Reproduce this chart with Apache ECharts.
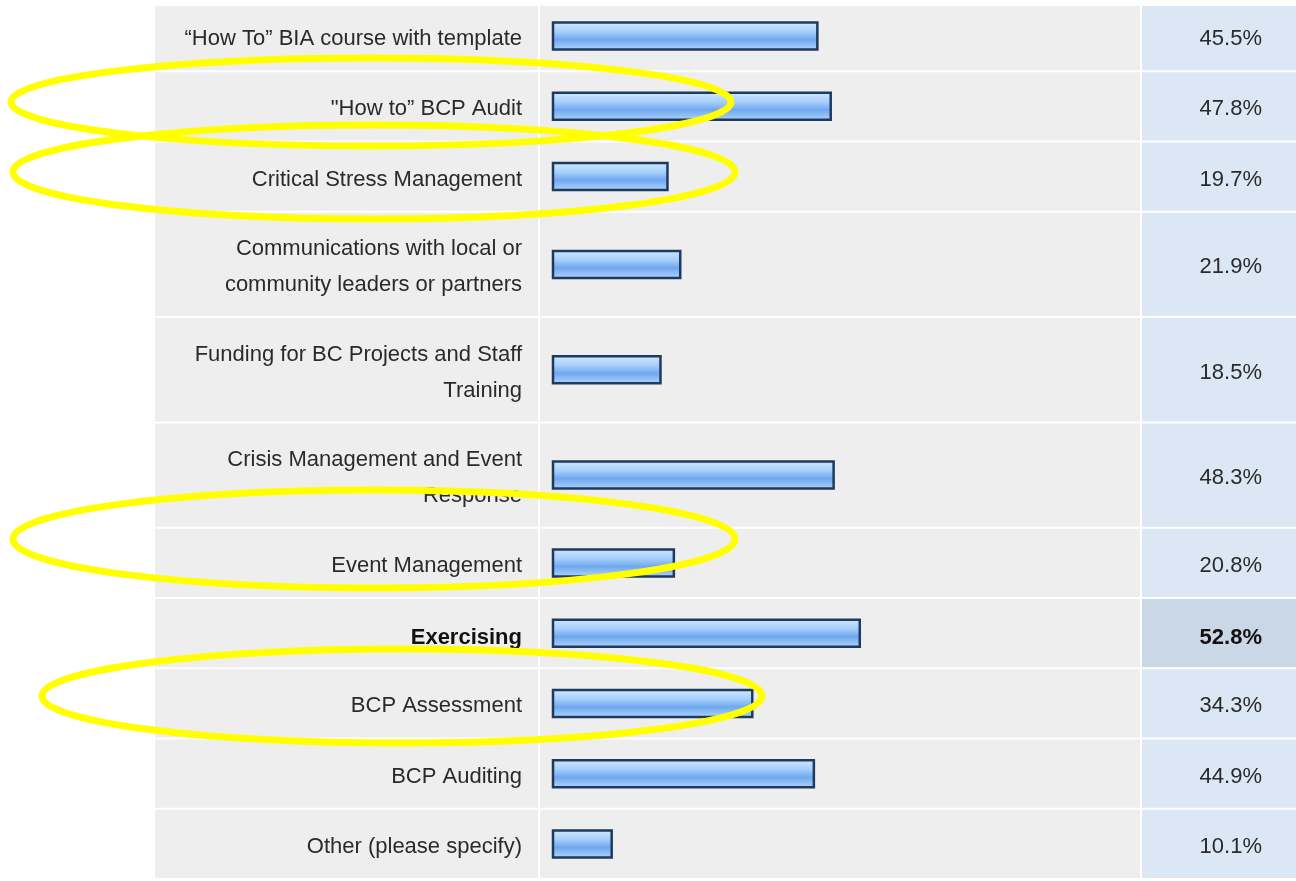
<!DOCTYPE html>
<html>
<head>
<meta charset="utf-8">
<title>Survey results</title>
<script src="https://cdn.jsdelivr.net/npm/echarts@6/dist/echarts.min.js"></script>
<style>
  html, body { margin: 0; padding: 0; background: #ffffff; }
  #chart { width: 1296px; height: 881px; }
</style>
</head>
<body>
<div id="chart"></div>
<script>
// answer choices, top to bottom
const categories = [
    '\u201cHow To\u201d BIA course with template',
    '"How to\u201d BCP Audit',
    'Critical Stress Management',
    'Communications with local or\ncommunity leaders or partners',
    'Funding for BC Projects and Staff\nTraining',
    'Crisis Management and Event\nResponse',
    'Event Management',
    'Exercising',
    'BCP Assessment',
    'BCP Auditing',
    'Other (please specify)'
];
// response percent
const percents = [45.5, 47.8, 19.7, 21.9, 18.5, 48.3, 20.8, 52.8, 34.3, 44.9, 10.1];
// the row shown in bold
const highlighted = 'Exercising';

const FONT = '"Liberation Sans", Arial, Helvetica, sans-serif';
const TEXT_COLOR = '#2a2a2a';

// one-line rows take 2 units, two-line rows take 3
const rowUnits = categories.map(c => c.split('\n').length === 1 ? 2 : 3);
const rowStart = [];
let acc = 0;
rowUnits.forEach(u => { rowStart.push(acc); acc += u; });
const totalUnits = acc;

const rows = categories.map((c, i) => [i, rowStart[i], rowStart[i] + rowUnits[i], percents[i]]);

function rowBox(api) {
    const top = api.coord([0, api.value(1)])[1];
    const bottom = api.coord([0, api.value(2)])[1];
    return { top: top, bottom: bottom, mid: (top + bottom) / 2 };
}

function renderLabel(params, api) {
    const i = api.value(0);
    const cs = params.coordSys;
    const b = rowBox(api);
    const bold = categories[i] === highlighted;
    return {
        type: 'group',
        children: [
            {
                type: 'rect',
                shape: { x: cs.x, y: b.top + 1, width: cs.width, height: b.bottom - b.top - 2 },
                style: { fill: '#eeeeee' }
            },
            {
                type: 'text',
                style: {
                    text: categories[i],
                    x: cs.x + cs.width - 16,
                    y: b.mid + (bold ? 5 : 3),
                    align: 'right',
                    verticalAlign: 'middle',
                    fontFamily: FONT,
                    fontSize: 22,
                    fontWeight: bold ? 'bold' : 'normal',
                    lineHeight: 36,
                    fill: bold ? '#111111' : TEXT_COLOR
                }
            }
        ]
    };
}

function renderBar(params, api) {
    const cs = params.coordSys;
    const b = rowBox(api);
    const yc = (api.value(1) + api.value(2)) / 2;
    const start = api.coord([0, yc]);
    const end = api.coord([api.value(3), yc]);
    return {
        type: 'group',
        children: [
            {
                type: 'rect',
                shape: { x: cs.x - 13, y: b.top + 1, width: cs.width + 19, height: b.bottom - b.top - 2 },
                style: { fill: '#eeeeee' }
            },
            {
                type: 'rect',
                shape: { x: start[0], y: start[1] - 13.5, width: end[0] - start[0], height: 27 },
                style: {
                    fill: new echarts.graphic.LinearGradient(0, 0, 0, 1, [
                        { offset: 0, color: '#d3e9ff' },
                        { offset: 0.35, color: '#a6cffc' },
                        { offset: 0.62, color: '#6fa8ef' },
                        { offset: 1, color: '#b4d7fc' }
                    ]),
                    stroke: '#1f3a5f',
                    lineWidth: 2.5
                }
            }
        ]
    };
}

function renderPercent(params, api) {
    const i = api.value(0);
    const cs = params.coordSys;
    const b = rowBox(api);
    const bold = categories[i] === highlighted;
    return {
        type: 'group',
        children: [
            {
                type: 'rect',
                shape: { x: cs.x, y: b.top + 1, width: cs.width, height: b.bottom - b.top - 2 },
                style: { fill: bold ? '#cad7e6' : '#dbe7f5' }
            },
            {
                type: 'text',
                style: {
                    text: api.value(3).toFixed(1) + '%',
                    x: cs.x + cs.width - 34,
                    y: b.mid + (bold ? 5 : 3),
                    align: 'right',
                    verticalAlign: 'middle',
                    fontFamily: FONT,
                    fontSize: 22,
                    fontWeight: bold ? 'bold' : 'normal',
                    fill: bold ? '#111111' : TEXT_COLOR
                }
            }
        ]
    };
}

// hand drawn yellow rings on top of the screenshot
const rings = [
    { cx: 371, cy: 102, rx: 360, ry: 44 },
    { cx: 374, cy: 172, rx: 361, ry: 47 },
    { cx: 374, cy: 539, rx: 361, ry: 49 },
    { cx: 402, cy: 696, rx: 360, ry: 47 }
];

const yAxisBase = { type: 'value', min: 0, max: totalUnits, inverse: true, show: false };

const option = {
    animation: false,
    backgroundColor: '#ffffff',
    grid: [
        { left: 155, top: 1, width: 383, height: 878 },
        { left: 553, top: 1, width: 581, height: 878 },
        { left: 1142, top: 1, width: 154, height: 878 }
    ],
    xAxis: [
        { type: 'value', gridIndex: 0, min: 0, max: 1, show: false },
        { type: 'value', gridIndex: 1, min: 0, max: 100, show: false },
        { type: 'value', gridIndex: 2, min: 0, max: 1, show: false }
    ],
    yAxis: [
        Object.assign({ gridIndex: 0 }, yAxisBase),
        Object.assign({ gridIndex: 1 }, yAxisBase),
        Object.assign({ gridIndex: 2 }, yAxisBase)
    ],
    series: [
        { type: 'custom', xAxisIndex: 0, yAxisIndex: 0, renderItem: renderLabel, data: rows, silent: true },
        { type: 'custom', xAxisIndex: 1, yAxisIndex: 1, renderItem: renderBar, data: rows, silent: true },
        { type: 'custom', xAxisIndex: 2, yAxisIndex: 2, renderItem: renderPercent, data: rows, silent: true }
    ],
    graphic: [
        { type: 'rect', shape: { x: 0, y: 0, width: 1296, height: 6 }, style: { fill: '#ffffff' }, z: 50 }
    ].concat(rings.map(r => ({
        type: 'ellipse',
        shape: r,
        style: { fill: 'none', stroke: '#ffff00', lineWidth: 7 },
        z: 100
    })))
};

const myChart = echarts.init(document.getElementById('chart'));
myChart.setOption(option);
window.addEventListener('resize', myChart.resize);
</script>
</body>
</html>
